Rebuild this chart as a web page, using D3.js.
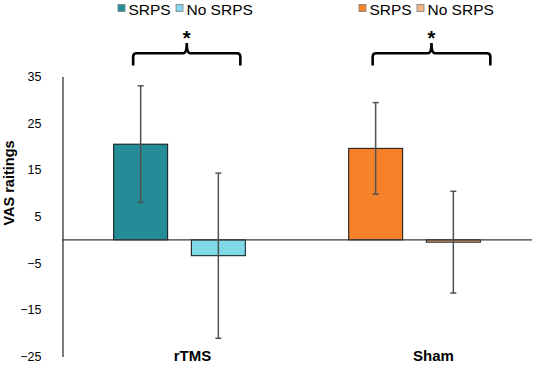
<!DOCTYPE html>
<html>
<head>
<meta charset="utf-8">
<script src="https://cdn.jsdelivr.net/npm/d3@7"></script>
<style>
html,body{margin:0;padding:0;background:#fff;}
svg{display:block;font-family:Arial,"Liberation Sans",sans-serif;}
</style>
</head>
<body>
<svg id="chart" width="536" height="366"></svg>
<script>
const categories = ["rTMS", "Sham"];
const series = ["SRPS", "No SRPS"];
const srpsValues = [20.5, 19.6];
const noSrpsValues = [-3.4, -0.5];
const srpsErrors = [12.5, 9.8];
const noSrpsErrors = [17.7, 10.9];
const yTicks = [-25, -15, -5, 5, 15, 25, 35];
const colors = {
  rTMS: ["#238C96", "#80D9E6"],
  Sham: ["#F5822B", "#F4B287"]
};
const significance = ["*", "*"];
const braceStartOffset = [-7.5, -3];
const braceEndOffset = [22, 37];

const svg = d3.select("#chart");
const y = d3.scaleLinear().domain([-25, 35]).range([356.5, 76.5]);
const x = d3.scaleBand().domain(categories).range([62, 532]);
const xs = d3.scaleBand().domain(series).range([0, x.bandwidth()])
  .paddingInner(0.305).paddingOuter(0.665);

const data = [];
categories.forEach((c, i) => {
  data.push({cat: c, ser: series[0], v: srpsValues[i], e: srpsErrors[i], color: colors[c][0]});
  data.push({cat: c, ser: series[1], v: noSrpsValues[i], e: noSrpsErrors[i], color: colors[c][1]});
});

// y axis
const yAxis = d3.axisLeft(y).tickValues(yTicks).tickSize(0).tickPadding(21)
  .tickFormat(d3.format("d"));
const gy = svg.append("g").attr("transform", "translate(62.5,0)").call(yAxis);
gy.select(".domain").attr("stroke", "#222").attr("stroke-width", 1.2);
gy.selectAll("text").attr("font-size", 12.5).attr("fill", "#000")
  .attr("font-family", "Arial, 'Liberation Sans', sans-serif");

// bars
svg.append("g").selectAll("rect").data(data).join("rect")
  .attr("x", d => x(d.cat) + xs(d.ser))
  .attr("width", xs.bandwidth())
  .attr("y", d => y(Math.max(0, d.v)))
  .attr("height", d => Math.abs(y(d.v) - y(0)))
  .attr("fill", d => d.color)
  .attr("stroke", "#111").attr("stroke-width", 1);

// zero line
svg.append("line")
  .attr("x1", x.range()[0]).attr("x2", x.range()[1])
  .attr("y1", y(0)).attr("y2", y(0))
  .attr("stroke", "#3a3a3a").attr("stroke-width", 1.4);

// error bars
const eg = svg.append("g").attr("stroke", "#505050").attr("stroke-width", 1.5);
data.forEach(d => {
  const cx = x(d.cat) + xs(d.ser) + xs.bandwidth() / 2;
  eg.append("line").attr("x1", cx).attr("x2", cx)
    .attr("y1", y(d.v + d.e)).attr("y2", y(d.v - d.e));
  [d.v + d.e, d.v - d.e].forEach(t => {
    eg.append("line").attr("x1", cx - 3).attr("x2", cx + 3)
      .attr("y1", y(t)).attr("y2", y(t));
  });
});

// category labels
svg.append("g").selectAll("text").data(categories).join("text")
  .attr("x", (d, i) => x(d) + x.bandwidth() / 2 + (i === 0 ? 13 : 19))
  .attr("y", 361)
  .attr("text-anchor", "middle")
  .attr("font-size", 15).attr("font-weight", "bold")
  .text(d => d);

// y axis title
svg.append("text")
  .attr("transform", "translate(13.5,183) rotate(-90)")
  .attr("text-anchor", "middle")
  .attr("font-size", 14.5).attr("font-weight", "bold")
  .text("VAS raitings");

// braces and asterisks
categories.forEach((c, i) => {
  const xl = x(c) + xs(series[0]) + xs.bandwidth() / 2 + braceStartOffset[i];
  const xr = x(c) + xs(series[1]) + xs.bandwidth() / 2 + braceEndOffset[i];
  const xm = (xl + xr) / 2;
  const yb = 65.5, yh = 53.2, yt = 43, r = 3.5;
  const p = d3.path();
  p.moveTo(xl, yb);
  p.lineTo(xl, yh + r);
  p.quadraticCurveTo(xl, yh, xl + r, yh);
  p.lineTo(xm - r, yh);
  p.quadraticCurveTo(xm, yh, xm, yt);
  p.quadraticCurveTo(xm, yh, xm + r, yh);
  p.lineTo(xr - r, yh);
  p.quadraticCurveTo(xr, yh, xr, yh + r);
  p.lineTo(xr, yb);
  svg.append("path").attr("d", p.toString())
    .attr("fill", "none").attr("stroke", "#000").attr("stroke-width", 2.6);
  svg.append("text").attr("x", xm).attr("y", 44.5)
    .attr("text-anchor", "middle").attr("font-size", 20).attr("font-weight", "bold")
    .text(significance[i]);
});

// legends
const legendX = [118, 359];
categories.forEach((c, i) => {
  const g = svg.append("g").attr("transform", `translate(${legendX[i]},0)`);
  const offs = [0, 58];
  series.forEach((s, j) => {
    g.append("rect").attr("x", offs[j]).attr("y", 4.5).attr("width", 7).attr("height", 7)
      .attr("fill", colors[c][j]).attr("stroke", "#7f7f7f").attr("stroke-width", 0.8);
    g.append("text").attr("x", offs[j] + 10.5).attr("y", 14.5)
      .attr("font-size", 15.5).attr("fill", "#000").text(s);
  });
});
</script>
</body>
</html>
